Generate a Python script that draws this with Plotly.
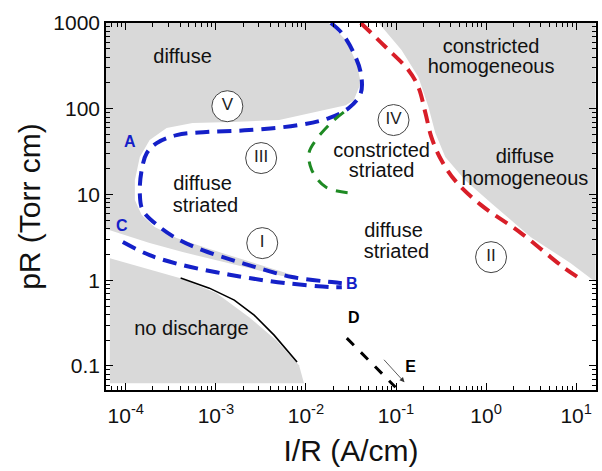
import numpy as np
import plotly.graph_objects as go

# ---------------- data (I/R in A/cm, pR in Torr cm) ----------------
# gray region: "diffuse" (top-left) incl. wedge between blue lines
diffuse_x = [6.01e-5, 1.8e-2, 2.77e-2, 3.66e-2, 4.06e-2, 3.39e-2, 2.77e-2, 1.16e-2, 5.04e-3,
             1.52e-3, 5.50e-4, 2.84e-4, 1.84e-4, 1.43e-4, 1.26e-4, 1.26e-4, 1.50e-4, 2.09e-4,
             3.66e-4, 7.85e-4, 1.82e-3, 4.21e-3, 8.38e-3, 5.43e-3, 2.34e-3, 1.01e-3, 4.27e-4,
             1.84e-4, 8.59e-5, 6.01e-5]
diffuse_y = [1000, 1000, 634, 341, 200, 126, 110, 89, 73.8,
             70, 68.1, 59.6, 43.2, 27.3, 14.7, 8.61, 5.75, 4.17,
             3.10, 2.37, 1.81, 1.38, 1.09, 1.12, 1.38, 1.72, 2.13,
             2.71, 3.55, 3.95]

# gray region: "no discharge"
nodis_x = [6.65e-5, 3.95e-4, 1.01e-3, 2.34e-3, 4.67e-3, 8.38e-3, 9.51e-3, 6.65e-5]
nodis_y = [1.81, 1.06, 0.708, 0.371, 0.200, 0.102, 0.063, 0.063]

# gray region: homogeneous (top-right)
homog_x = [6.41e-2, 0.115, 0.177, 0.229, 0.273, 0.352, 0.586, 1.135, 3.14, 8.69, 16.4, 16.4]
homog_y = [1000, 484, 234, 105, 52, 27.3, 14.7, 7.94, 3.18, 1.58, 0.951, 1000]

# blue boundary A-B
blueAB_x = [1.89e-2, 2.50e-2, 3.39e-2, 4.06e-2, 4.06e-2, 2.99e-2, 1.80e-2, 8.38e-3, 2.34e-3,
            7.85e-4, 3.66e-4, 2.20e-4, 1.71e-4, 1.50e-4, 1.43e-4, 1.54e-4, 2.38e-4, 3.95e-4,
            7.10e-4, 1.52e-3, 3.03e-3, 7.00e-3, 1.94e-2, 2.50e-2]
blueAB_y = [1000, 764, 447, 261, 152, 102, 77.8, 64.6, 56.4,
            53.5, 49.3, 39.8, 30.4, 19.3, 10.4, 6.58, 4.17, 2.94,
            2.24, 1.72, 1.38, 1.09, 0.951, 0.925]

# blue boundary C-B
blueCB_x = [9.27e-5, 1.84e-4, 4.27e-4, 1.01e-3, 2.34e-3, 6.01e-3, 1.94e-2, 2.50e-2]
blueCB_y = [2.79, 1.96, 1.50, 1.24, 1.06, 0.925, 0.830, 0.830]

# red boundary
red_x = [4.06e-2, 7.66e-2, 0.137, 0.177, 0.212, 0.247, 0.318, 0.467, 0.881, 2.44, 7.46, 11.8]
red_y = [1000, 525, 283, 179, 89, 46.8, 25.2, 14.0, 7.52, 3.55, 1.38, 1.0]

# green boundary
green_x = [2.63e-2, 1.94e-2, 1.29e-2, 1.08e-2, 1.16e-2, 1.66e-2, 3.14e-2]
green_y = [91.4, 70, 43.2, 30.4, 19.3, 12.2, 10.4]

# black solid line (breakdown)
black_x = [4.06e-4, 8.47e-4, 1.60e-3, 2.66e-3, 4.43e-3, 7.96e-3]
black_y = [1.06, 0.809, 0.586, 0.392, 0.229, 0.111]

# black dashed D-E
de_x = [2.84e-2, 9.86e-2]
de_y = [0.211, 0.0566]

# arrow toward E (tail, head)
arrow_x = [7.10e-2, 0.124]
arrow_y = [0.123, 0.0647]

# roman numeral circles
roman = ["V", "III", "IV", "I", "II"]
roman_x = [1.34e-3, 3.18e-3, 9.38e-2, 3.27e-3, 1.135]
roman_y = [107, 26.6, 73.8, 2.71, 1.86]

# region labels
label_text = ["diffuse", "constricted", "homogeneous", "diffuse", "striated",
              "constricted", "striated", "diffuse", "homogeneous", "diffuse", "striated",
              "no discharge"]
label_x = [4.27e-4, 1.135, 1.135, 7.10e-4, 7.66e-4, 6.92e-2, 6.92e-2, 2.70, 2.70,
           9.38e-2, 0.101, 5.36e-4]
label_y = [391, 511, 299, 12.9, 7.13, 31.3, 18.2, 26.6, 14.7, 3.64, 2.07, 0.262]

# point letters
blue_letters = ["A", "C", "B"]
blue_letters_x = [1.11e-4, 9.03e-5, 3.22e-2]
blue_letters_y = [39.8, 4.17, 0.877]
black_letters = ["D", "E"]
black_letters_x = [3.39e-2, 0.145]
black_letters_y = [0.352, 0.0942]

# axis ticks
x_tickvals = [1e-4, 1e-3, 1e-2, 1e-1, 1e0, 1e1]
x_ticktext = ["10<sup>-4</sup>", "10<sup>-3</sup>", "10<sup>-2</sup>", "10<sup>-1</sup>",
              "10<sup>0</sup>", "10<sup>1</sup>"]
y_tickvals = [0.1, 1, 10, 100, 1000]
y_ticktext = ["0.1", "1", "10", "100", "1000"]

# ---------------- styles ----------------
GRAY = "#d9d9d9"
BLUE = "#1420c8"
RED = "#d81e28"
GREEN = "#1e8a23"
FONT = "Liberation Sans, Arial, sans-serif"

fig = go.Figure()

for xs, ys in [(diffuse_x, diffuse_y), (nodis_x, nodis_y), (homog_x, homog_y)]:
    fig.add_trace(go.Scatter(x=xs, y=ys, mode="lines", fill="toself", fillcolor=GRAY,
                             line=dict(width=0, color=GRAY), hoverinfo="skip"))

fig.add_trace(go.Scatter(x=black_x, y=black_y, mode="lines",
                         line=dict(color="black", width=1.6)))
fig.add_trace(go.Scatter(x=blueAB_x, y=blueAB_y, mode="lines", line_shape="spline",
                         line=dict(color=BLUE, width=4, dash="14px,8px")))
fig.add_trace(go.Scatter(x=blueCB_x, y=blueCB_y, mode="lines", line_shape="spline",
                         line=dict(color=BLUE, width=4, dash="14px,8px")))
fig.add_trace(go.Scatter(x=red_x, y=red_y, mode="lines", line_shape="spline",
                         line=dict(color=RED, width=4, dash="14px,8px")))
fig.add_trace(go.Scatter(x=green_x, y=green_y, mode="lines", line_shape="spline",
                         line=dict(color=GREEN, width=3, dash="12px,9px")))
fig.add_trace(go.Scatter(x=de_x, y=de_y, mode="lines",
                         line=dict(color="black", width=3, dash="10px,10px")))

fig.add_trace(go.Scatter(x=roman_x, y=roman_y, mode="markers+text", text=roman,
                         textposition="middle center",
                         textfont=dict(family=FONT, size=17, color="#222"),
                         marker=dict(symbol="circle", size=31, color="white",
                                     line=dict(color="#444", width=1))))

fig.add_trace(go.Scatter(x=label_x, y=label_y, mode="text", text=label_text,
                         textposition="middle center",
                         textfont=dict(family=FONT, size=20, color="#111")))

fig.add_trace(go.Scatter(x=blue_letters_x, y=blue_letters_y, mode="text",
                         text=["<b>%s</b>" % t for t in blue_letters],
                         textposition="middle center",
                         textfont=dict(family=FONT, size=16, color=BLUE)))
fig.add_trace(go.Scatter(x=black_letters_x, y=black_letters_y, mode="text",
                         text=["<b>%s</b>" % t for t in black_letters],
                         textposition="middle center",
                         textfont=dict(family=FONT, size=16, color="black")))

fig.add_annotation(x=np.log10(arrow_x[1]), y=np.log10(arrow_y[1]),
                   ax=np.log10(arrow_x[0]), ay=np.log10(arrow_y[0]),
                   xref="x", yref="y", axref="x", ayref="y", text="",
                   showarrow=True, arrowhead=2, arrowsize=1.2, arrowwidth=0.8,
                   arrowcolor="#333")

def minor_vals(lo, hi):
    vals = []
    for d in range(lo, hi + 1):
        for m in range(2, 10):
            vals.append(m * 10.0 ** d)
    return vals

axis_common = dict(showline=True, linecolor="black", linewidth=1.5, mirror="ticks",
                   ticks="inside", ticklen=7, tickwidth=1.3, tickcolor="black",
                   showgrid=False, zeroline=False,
                   tickfont=dict(family=FONT, size=21, color="#111"))

fig.update_xaxes(type="log", range=[-4.22, 1.22], tickmode="array",
                 tickvals=x_tickvals, ticktext=x_ticktext, ticklabelstandoff=6,
                 minor=dict(tickmode="array", tickvals=minor_vals(-5, 1), ticks="inside",
                            ticklen=4, tickwidth=1, tickcolor="black", showgrid=False),
                 title=dict(text="I/R (A/cm)", font=dict(family=FONT, size=30, color="#111"),
                            standoff=14),
                 **axis_common)
fig.update_yaxes(type="log", range=[-1.28, 3.0], tickmode="array",
                 tickvals=y_tickvals, ticktext=y_ticktext,
                 minor=dict(tickmode="array", tickvals=minor_vals(-2, 2), ticks="inside",
                            ticklen=4, tickwidth=1, tickcolor="black", showgrid=False),
                 title=dict(text="pR (Torr cm)", font=dict(family=FONT, size=30, color="#111"),
                            standoff=4),
                 **axis_common)

fig.update_layout(width=602, height=471, showlegend=False,
                  margin=dict(l=106, r=4, t=23, b=81),
                  plot_bgcolor="white", paper_bgcolor="white")

fig.write_html("out.html")
